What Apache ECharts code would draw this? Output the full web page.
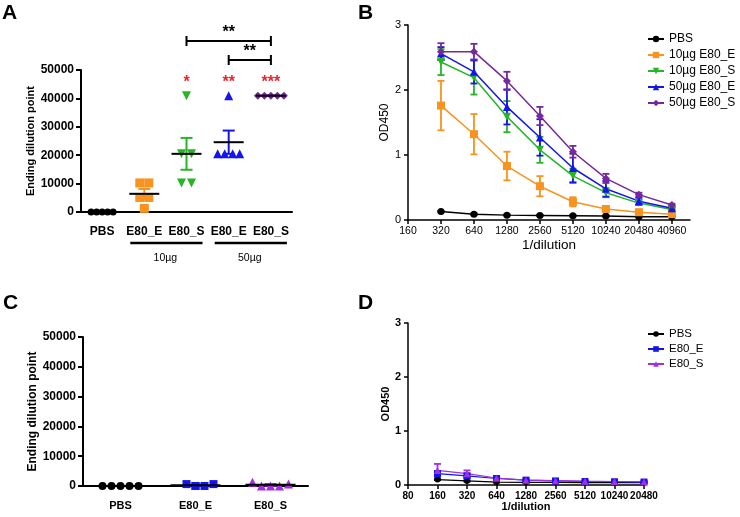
<!DOCTYPE html>
<html>
<head>
<meta charset="utf-8">
<script src="https://cdn.jsdelivr.net/npm/echarts@6/dist/echarts.min.js"></script>
<style>
html, body { margin: 0; padding: 0; background: #fff; }
#chart { width: 740px; height: 517px; }
</style>
</head>
<body>
<div id="chart"></div>
<script>
// panel A - ending dilution point per mouse (sera from E80 immunisation)
const groupsA = ['PBS', 'E80_E', 'E80_S', 'E80_E', 'E80_S'];
const pbsA = [0, 0, 0, 0, 0];
const e80E10A = [10240, 10240, 5120, 5120, 1280];
const e80S10A = [40960, 20480, 20480, 10240, 10240];
const e80E50A = [40960, 20480, 20480, 20480, 20480];
const e80S50A = [40960, 40960, 40960, 40960, 40960];
const starsA = ['', '', '*', '**', '***'];
const dosesA = ['10µg', '50µg'];

// panel B - OD450 titration curves
const ticksB = ['160', '320', '640', '1280', '2560', '5120', '10240', '20480', '40960'];
const dilutionsB = [320, 640, 1280, 2560, 5120, 10240, 20480, 40960];
const pbsB = [0.13, 0.09, 0.075, 0.07, 0.065, 0.06, 0.05, 0.05];
const pbsBErr = [0.01, 0.01, 0.01, 0.01, 0.01, 0.01, 0.01, 0.01];
const e80E10B = [1.76, 1.32, 0.83, 0.52, 0.28, 0.17, 0.12, 0.09];
const e80E10BErr = [0.38, 0.31, 0.22, 0.155, 0.07, 0.03, 0.02, 0.02];
const e80S10B = [2.43, 2.19, 1.59, 1.08, 0.68, 0.42, 0.26, 0.16];
const e80S10BErr = [0.2, 0.26, 0.24, 0.2, 0.11, 0.07, 0.03, 0.02];
const e80E50B = [2.56, 2.28, 1.74, 1.27, 0.8, 0.48, 0.29, 0.18];
const e80E50BErr = [0.1, 0.18, 0.27, 0.28, 0.22, 0.12, 0.05, 0.02];
const e80S50B = [2.59, 2.59, 2.14, 1.6, 1.05, 0.64, 0.39, 0.23];
const e80S50BErr = [0.13, 0.12, 0.14, 0.14, 0.09, 0.07, 0.03, 0.02];

// panel C - ending dilution point, second experiment
const groupsC = ['PBS', 'E80_E', 'E80_S'];
const pbsC = [0, 0, 0, 0, 0];
const e80EC = [640, 0, 0, 640, 0];
const e80SC = [1280, 0, 0, 0, 640];

// panel D - OD450, second experiment
const ticksD = ['80', '160', '320', '640', '1280', '2560', '5120', '10240', '20480'];
const dilutionsD = [160, 320, 640, 1280, 2560, 5120, 10240, 20480];
const pbsD = [0.1, 0.075, 0.055, 0.05, 0.05, 0.045, 0.045, 0.045];
const pbsDErr = [0.01, 0.01, 0.01, 0.01, 0.01, 0.01, 0.01, 0.01];
const e80ED = [0.21, 0.17, 0.12, 0.09, 0.075, 0.065, 0.06, 0.055];
const e80EDErr = [0.05, 0.04, 0.02, 0.01, 0.01, 0.01, 0.01, 0.01];
const e80SD = [0.27, 0.21, 0.13, 0.09, 0.08, 0.07, 0.065, 0.06];
const e80SDErr = [0.12, 0.06, 0.03, 0.02, 0.01, 0.01, 0.01, 0.01];

const FONT = '"Liberation Sans", Arial, sans-serif';
const ORANGE = '#F7931E', GREEN = '#25B525', BLUE = '#1414EE', PURPLE = '#75299C', VIOLET = '#A030E0', RED = '#E8262A';

function mean(a) { return a.reduce((s, v) => s + v, 0) / a.length; }
function sem(a) {
  const m = mean(a);
  const ss = a.reduce((s, v) => s + (v - m) * (v - m), 0);
  return Math.sqrt(ss / (a.length - 1)) / Math.sqrt(a.length);
}

const chart = echarts.init(document.getElementById('chart'), null, { renderer: 'canvas' });

// error bar with caps, optional black mean line (column scatter)
function errorBars(capHalf, meanHalf, width) {
  return function (params, api) {
    const x = api.value(0), m = api.value(1), e = api.value(2);
    const hi = api.coord([x, m + e]);
    const lo = api.coord([x, m - e]);
    const mid = api.coord([x, m]);
    const style = { stroke: api.visual('color'), lineWidth: width };
    const kids = [
      { type: 'line', shape: { x1: hi[0], y1: hi[1], x2: lo[0], y2: lo[1] }, style },
      { type: 'line', shape: { x1: hi[0] - capHalf, y1: hi[1], x2: hi[0] + capHalf, y2: hi[1] }, style },
      { type: 'line', shape: { x1: lo[0] - capHalf, y1: lo[1], x2: lo[0] + capHalf, y2: lo[1] }, style }
    ];
    if (meanHalf) {
      kids.push({ type: 'line', shape: { x1: mid[0] - meanHalf, y1: mid[1], x2: mid[0] + meanHalf, y2: mid[1] },
        style: { stroke: '#000', lineWidth: 2 } });
    }
    return { type: 'group', children: kids };
  };
}

const series = [];

// column scatter panels (A and C)
function columnScatter(gi, groups, colors, symbols, rotates, sizes, jitter, meanHalf) {
  groups.forEach((vals, g) => {
    series.push({
      name: 'scatter' + gi + '_' + g, type: 'scatter', xAxisIndex: gi, yAxisIndex: gi,
      symbol: symbols[g], symbolSize: sizes[g], symbolRotate: rotates[g],
      itemStyle: { color: colors[g], opacity: 1 }, z: 3,
      data: vals.map((v, k) => ({ value: [g, v], symbolOffset: [jitter[g][k], 0] }))
    });
    series.push({
      name: 'err' + gi + '_' + g, type: 'custom', xAxisIndex: gi, yAxisIndex: gi, z: 4,
      itemStyle: { color: colors[g] },
      renderItem: errorBars(6, meanHalf, 2),
      data: [[g, mean(vals), sem(vals)]]
    });
  });
}

columnScatter(0, [pbsA, e80E10A, e80S10A, e80E50A, e80S50A],
  ['#000', ORANGE, GREEN, BLUE, PURPLE],
  ['circle', 'rect', 'triangle', 'triangle', 'diamond'], [0, 0, 180, 0, 0], [7, 9, 9, 9, 8],
  [[-11, -5.5, 0, 5.5, 11], [-4.5, 4.5, -4.5, 4.5, 0], [0, -5, 5, -5, 5], [0, -11, -4, 4, 11], [-13, -6.5, 0, 6.5, 13]],
  15);

columnScatter(2, [pbsC, e80EC, e80SC],
  ['#000', BLUE, VIOLET],
  ['circle', 'rect', 'triangle'], [0, 0, 0], [8, 8, 9],
  [[-18, -9, 0, 9, 18], [-9, 0, 9, 18, 0], [-18, -9, 0, 9, 18]],
  25);

// annotations for panel A: red stars, brackets, dose groups
series.push({
  name: 'notesA', type: 'custom', xAxisIndex: 0, yAxisIndex: 0, z: 5, silent: true,
  data: [[0, 0]],
  renderItem: function (params, api) {
    const top = api.coord([0, 50000])[1];
    const base = api.coord([0, 0])[1];
    const cx = i => api.coord([i, 0])[0];
    const kids = [];
    const ls = { stroke: '#000', lineWidth: 2 };
    starsA.forEach((s, i) => {
      if (!s) return;
      kids.push({ type: 'text', x: cx(i), y: top + 13,
        style: { text: s, fill: RED, font: 'bold 16px ' + FONT, align: 'center', verticalAlign: 'middle' } });
    });
    [[2, 4, top - 29], [3, 4, top - 10]].forEach(([a, b, y]) => {
      kids.push({ type: 'line', shape: { x1: cx(a), y1: y, x2: cx(b), y2: y }, style: ls });
      kids.push({ type: 'line', shape: { x1: cx(a), y1: y - 5, x2: cx(a), y2: y + 5 }, style: ls });
      kids.push({ type: 'line', shape: { x1: cx(b), y1: y - 5, x2: cx(b), y2: y + 5 }, style: ls });
      kids.push({ type: 'text', x: (cx(a) + cx(b)) / 2, y: y - 8,
        style: { text: '**', fill: '#000', font: 'bold 16px ' + FONT, align: 'center', verticalAlign: 'middle' } });
    });
    dosesA.forEach((d, k) => {
      const a = cx(1 + 2 * k), b = cx(2 + 2 * k);
      kids.push({ type: 'line', shape: { x1: a - 14, y1: base + 31, x2: b + 16, y2: base + 31 }, style: { stroke: '#000', lineWidth: 2.5 } });
      kids.push({ type: 'text', x: (a + b) / 2, y: base + 46,
        style: { text: d, fill: '#000', font: '10.5px ' + FONT, align: 'center', verticalAlign: 'middle' } });
    });
    return { type: 'group', children: kids };
  }
});

// titration curves (B and D)
function curve(gi, name, xs, ys, errs, color, symbol, size, rotate, width) {
  series.push({
    name, type: 'line', xAxisIndex: gi, yAxisIndex: gi, z: 3,
    symbol, symbolSize: size, symbolRotate: rotate,
    itemStyle: { color }, lineStyle: { color, width },
    data: xs.map((x, i) => [x, ys[i]])
  });
  series.push({
    name: name + ' err', type: 'custom', xAxisIndex: gi, yAxisIndex: gi, z: 3,
    itemStyle: { color }, renderItem: errorBars(3.5, 0, 1.8),
    data: xs.map((x, i) => [x, ys[i], errs[i]])
  });
}

const xB = dilutionsB.map(d => Math.log2(d / 160));
curve(1, 'PBS', xB, pbsB, pbsBErr, '#000', 'circle', 7, 0, 1.5);
curve(1, '10µg E80_E', xB, e80E10B, e80E10BErr, ORANGE, 'rect', 8, 0, 1.5);
curve(1, '10µg E80_S', xB, e80S10B, e80S10BErr, GREEN, 'triangle', 8, 180, 1.5);
curve(1, '50µg E80_E', xB, e80E50B, e80E50BErr, BLUE, 'triangle', 8, 0, 1.5);
curve(1, '50µg E80_S', xB, e80S50B, e80S50BErr, PURPLE, 'diamond', 8, 0, 1.5);

const xD = dilutionsD.map(d => Math.log2(d / 80));
curve(3, 'PBS', xD, pbsD, pbsDErr, '#000', 'circle', 6, 0, 1.2);
curve(3, 'E80_E', xD, e80ED, e80EDErr, BLUE, 'rect', 7, 0, 1.2);
curve(3, 'E80_S', xD, e80SD, e80SDErr, VIOLET, 'triangle', 7, 0, 1.2);

const txt = (size, bold) => ({ color: '#000', fontFamily: FONT, fontSize: size, fontWeight: bold ? 'bold' : 'normal' });

function catAxis(gi, cats, size) {
  return {
    gridIndex: gi, type: 'category', data: cats,
    axisLine: { show: true, lineStyle: { color: '#000', width: 2 } },
    axisTick: { show: false },
    axisLabel: Object.assign({ interval: 0, margin: 14 }, txt(size, true)),
    splitLine: { show: false }
  };
}
function countAxis(gi, nameSize, nameGap) {
  return {
    gridIndex: gi, type: 'value', min: 0, max: 50000, interval: 10000,
    axisLine: { show: true, lineStyle: { color: '#000', width: 2 } },
    axisTick: { show: true, length: 5, lineStyle: { color: '#000', width: 2 } },
    axisLabel: Object.assign({ margin: 7, formatter: v => String(v) }, txt(12, true)),
    splitLine: { show: false },
    name: 'Ending dilution point', nameLocation: 'middle', nameGap,
    nameTextStyle: txt(nameSize, true)
  };
}
function dilutionAxis(gi, ticks, max, labelSize, bold, nameSize, nameGap) {
  const idx = ticks.map((t, i) => i);
  return {
    gridIndex: gi, type: 'value', min: 0, max, interval: 1,
    axisLine: { show: true, lineStyle: { color: '#000', width: 1.5 } },
    axisTick: { show: true, length: 4, customValues: idx, lineStyle: { color: '#000', width: 1.5 } },
    axisLabel: Object.assign({ margin: 6, customValues: idx, formatter: v => ticks[v] ?? '' }, txt(labelSize, bold)),
    splitLine: { show: false },
    name: '1/dilution', nameLocation: 'middle', nameGap, nameTextStyle: txt(nameSize, bold)
  };
}
function odAxis(gi, labelSize, bold, nameSize, nameGap) {
  return {
    gridIndex: gi, type: 'value', min: 0, max: 3, interval: 1,
    axisLine: { show: true, lineStyle: { color: '#000', width: 1.5 } },
    axisTick: { show: true, length: 4, lineStyle: { color: '#000', width: 1.5 } },
    axisLabel: Object.assign({ margin: 7 }, txt(labelSize, bold)),
    splitLine: { show: false },
    name: 'OD450', nameLocation: 'middle', nameGap, nameTextStyle: txt(nameSize, bold)
  };
}

const panelLetter = (t, x, y) => ({ type: 'text', left: x, top: y,
  style: { text: t, font: 'bold 21px ' + FONT, fill: '#000' } });

chart.setOption({
  animation: false,
  backgroundColor: '#fff',
  grid: [
    { left: 81, top: 70, width: 211, height: 142 },
    { left: 408, top: 25, width: 282, height: 195 },
    { left: 83, top: 337, width: 225, height: 149 },
    { left: 408, top: 323, width: 236, height: 162 }
  ],
  xAxis: [
    catAxis(0, groupsA, 12),
    dilutionAxis(1, ticksB, 8.55, 10.5, false, 13.5, 18),
    catAxis(2, groupsC, 11),
    dilutionAxis(3, ticksD, 8, 10, true, 11, 16)
  ],
  yAxis: [
    countAxis(0, 11, 35),
    odAxis(1, 11, false, 12, 16),
    countAxis(2, 12, 37),
    odAxis(3, 11, true, 11, 15)
  ],
  legend: [
    {
      data: ['PBS', '10µg E80_E', '10µg E80_S', '50µg E80_E', '50µg E80_S'],
      orient: 'vertical', left: 645, top: 31, itemWidth: 16, itemHeight: 8, itemGap: 4, padding: 2,
      selectedMode: false, textStyle: txt(12, false)
    },
    {
      data: ['PBS', 'E80_E', 'E80_S'],
      orient: 'vertical', left: 645, top: 326, itemWidth: 16, itemHeight: 7, itemGap: 3, padding: 2,
      selectedMode: false, textStyle: txt(11.5, false)
    }
  ],
  graphic: [
    panelLetter('A', 2, 3),
    panelLetter('B', 358, 3),
    panelLetter('C', 3, 293),
    panelLetter('D', 358, 293)
  ],
  series
});
</script>
</body>
</html>
